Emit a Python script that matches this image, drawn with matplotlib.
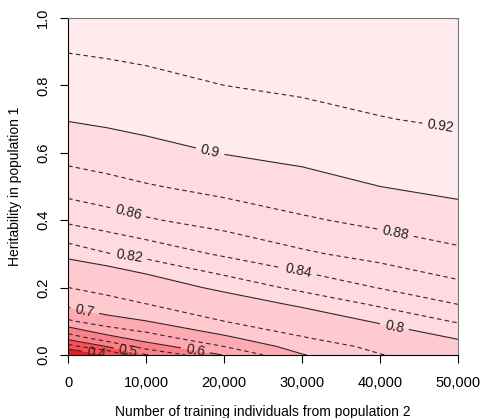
import numpy as np
import matplotlib
matplotlib.use('Agg')
import matplotlib.pyplot as plt

plt.rcParams['font.family'] = ['Liberation Sans', 'DejaVu Sans']

# number of training individuals from population 2
n_train = [0, 5000, 10000, 20000, 30000, 40000, 50000]
# heritability in population 1
herit = [0, 0.025, 0.05, 0.1, 0.15, 0.2, 0.3, 0.4, 0.5, 0.6, 0.7, 0.8, 0.9, 1.0]
# accuracy (rows = heritability, cols = n_train)
acc = [
    [0.340, 0.397, 0.497, 0.603, 0.697, 0.748, 0.783],
    [0.429, 0.502, 0.574, 0.650, 0.724, 0.762, 0.790],
    [0.518, 0.581, 0.624, 0.690, 0.747, 0.777, 0.802],
    [0.643, 0.682, 0.699, 0.750, 0.778, 0.804, 0.822],
    [0.712, 0.731, 0.749, 0.781, 0.805, 0.823, 0.840],
    [0.750, 0.766, 0.782, 0.807, 0.825, 0.841, 0.855],
    [0.809, 0.819, 0.827, 0.843, 0.857, 0.867, 0.876],
    [0.844, 0.851, 0.858, 0.868, 0.8775, 0.885, 0.892],
    [0.869, 0.874, 0.8785, 0.886, 0.893, 0.900, 0.905],
    [0.887, 0.890, 0.894, 0.9007, 0.905, 0.910, 0.914],
    [0.901, 0.9035, 0.906, 0.9104, 0.915, 0.9194, 0.9224],
    [0.911, 0.9132, 0.9155, 0.920, 0.9228, 0.9256, 0.9283],
    [0.9204, 0.9218, 0.9232, 0.926, 0.9287, 0.9315, 0.9342],
    [0.9263, 0.9277, 0.9291, 0.9318, 0.9346, 0.9373, 0.9402],
]

fill_levels = [0.3, 0.4, 0.5, 0.6, 0.7, 0.8, 0.9, 1.0]
fill_colors = ['#ee1c1c', '#ff4d52', '#ff7f88', '#ffaab3', '#ffc9d0', '#ffdae0', '#ffebee']
solid_levels = [0.4, 0.5, 0.6, 0.7, 0.8, 0.9]
labeled_levels = [0.4, 0.5, 0.6, 0.7, 0.8, 0.82, 0.84, 0.86, 0.88, 0.9, 0.92]
unlabeled_levels = [0.45, 0.55, 0.65, 0.75, 0.94]
xticks = [0, 10000, 20000, 30000, 40000, 50000]
xticklabels = ['0', '10,000', '20,000', '30,000', '40,000', '50,000']
yticks = [0.0, 0.2, 0.4, 0.6, 0.8, 1.0]

X, Y = np.meshgrid(n_train, herit)
Z = np.array(acc)

fig = plt.figure(figsize=(4.8, 4.18), dpi=100)
ax = fig.add_axes([0.142, 0.151, 0.812, 0.806])

ax.contourf(X, Y, Z, levels=fill_levels, colors=fill_colors)

dash = (0, (4, 3))
ax.contour(X, Y, Z, levels=unlabeled_levels, colors='#2a2a2a',
           linewidths=0.8, linestyles=[dash] * len(unlabeled_levels))
styles = ['solid' if l in solid_levels else dash for l in labeled_levels]
cs = ax.contour(X, Y, Z, levels=labeled_levels, colors='#2a2a2a',
                linewidths=0.8, linestyles=styles)

# label spots, in the same order as labeled_levels
label_pos = [
    (3700, 0.012), (7700, 0.015), (16300, 0.012), (2200, 0.14),
    (41900, 0.09), (7700, 0.273), (29500, 0.24), (7700, 0.424),
    (41900, 0.35), (18200, 0.602), (47700, 0.668),
]
ax.clabel(cs, manual=label_pos, inline=True, fmt='%g', fontsize=10, colors='#222222')

ax.set_xlim(0, 50000)
ax.set_ylim(0, 1)
ax.set_xticks(xticks)
ax.set_xticklabels(xticklabels)
ax.set_yticks(yticks)
ax.set_yticklabels(['0.0', '0.2', '0.4', '0.6', '0.8', '1.0'], rotation=90, va='center')
ax.tick_params(direction='out', length=6, labelsize=10.5)
ax.tick_params(axis='x', pad=9)
ax.tick_params(axis='y', pad=7)
for s in ['top', 'right']:
    ax.spines[s].set_color('#777777')
ax.set_xlabel('Number of training individuals from population 2', fontsize=10, labelpad=11)
ax.set_ylabel('Heritability in population 1', fontsize=10, labelpad=10)

fig.savefig('out.png', dpi=100)
